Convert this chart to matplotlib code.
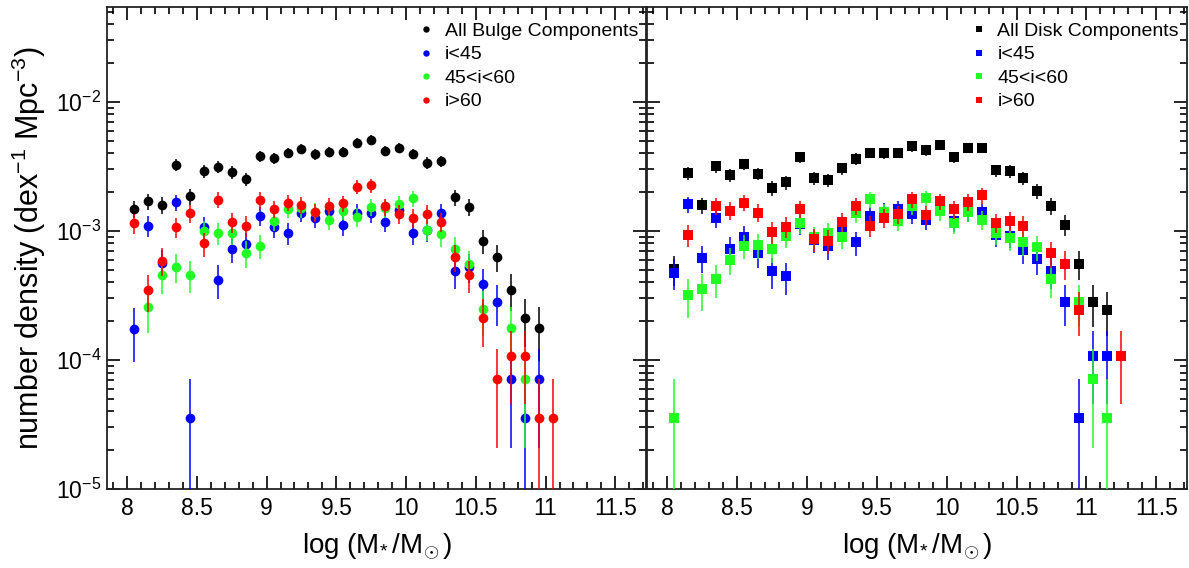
import numpy as np
import matplotlib.pyplot as plt
from matplotlib.lines import Line2D
from matplotlib.ticker import MultipleLocator, LogLocator, FuncFormatter, NullFormatter

plt.rcParams['font.family'] = ['Liberation Sans', 'DejaVu Sans']
plt.rcParams['mathtext.fontset'] = 'custom'
plt.rcParams['mathtext.rm'] = 'Liberation Sans'
plt.rcParams['mathtext.it'] = 'Liberation Sans:italic'
plt.rcParams['mathtext.bf'] = 'Liberation Sans:bold'

nan = np.nan
UNIT = 3.55e-5      # density of one galaxy in a bin (poisson errors)
SCALE = 1e-3        # values below are in units of 1e-3

# bulge panel, bins 8.05 ... 11.05
mass_bulge = np.round(np.arange(8.05, 11.06, 0.1), 2)
bulge_all = [1.48, 1.70, 1.60, 3.27, 1.86, 2.92, 3.13, 2.85, 2.53, 3.79, 3.68, 4.03, 4.33, 3.95,
             4.10, 4.10, 4.80, 5.10, 4.19, 4.40, 3.97, 3.37, 3.47, 1.82, 1.53, 0.84, 0.63, 0.35,
             0.212, 0.177, nan]
bulge_lo = [0.175, 1.10, 0.565, 1.67, 0.0355, 1.08, 0.42, 0.73, 0.79, 1.31, 1.08, 0.96, 1.39, 1.27,
            1.44, 1.12, 1.39, 1.37, 1.18, 1.46, 0.97, 1.01, 1.39, 0.49, 0.53, 0.386, 0.282, 0.071,
            0.0355, 0.071, nan]
bulge_mid = [nan, 0.258, 0.453, 0.53, 0.456, 1.00, 0.97, 0.97, 0.675, 0.77, 1.20, 1.49, 1.50, 1.41,
             1.22, 1.44, 1.29, 1.54, 1.50, 1.62, 1.80, 1.02, 0.94, 0.73, 0.555, 0.248, nan, 0.177,
             0.071, nan, nan]
bulge_hi = [1.15, 0.347, 0.59, 1.07, 1.38, 0.80, 1.75, 1.17, 1.10, 1.74, 1.49, 1.66, 1.60, 1.40,
            1.57, 1.64, 2.21, 2.26, 1.55, 1.36, 1.26, 1.36, 1.18, 0.63, 0.456, 0.212, 0.071, 0.107,
            0.107, 0.0355, 0.0355]

# disk panel, bins 8.05 ... 11.25
mass_disk = np.round(np.arange(8.05, 11.26, 0.1), 2)
disk_all = [0.51, 2.82, 1.58, 3.17, 2.70, 3.29, 2.78, 2.15, 2.38, 3.72, 2.56, 2.49, 3.06, 3.63,
            4.03, 4.00, 4.03, 4.53, 4.23, 4.67, 3.75, 4.40, 4.40, 2.95, 2.92, 2.56, 2.04, 1.57,
            1.12, 0.558, 0.28, 0.246, nan]
disk_lo = [0.476, 1.61, 0.623, 1.26, 0.731, 0.906, 0.67, 0.49, 0.444, 1.13, 0.85, 0.76, 1.02, 0.815,
           1.31, 1.41, 1.47, 1.35, 1.22, 1.63, 1.19, 1.40, 1.40, 0.93, 0.92, 0.71, 0.605, 0.49,
           0.282, 0.0355, 0.107, 0.107, nan]
disk_mid = [0.0355, 0.319, 0.354, 0.423, 0.598, 0.768, 0.776, 0.73, 0.92, 1.15, 0.90, 0.96, 0.906,
            1.37, 1.76, 1.40, 1.20, 1.57, 1.80, 1.42, 1.15, 1.40, 1.22, 0.97, 0.875, 0.815, 0.745,
            0.423, nan, 0.282, 0.071, 0.0355, nan]
disk_hi = [nan, 0.93, nan, 1.57, 1.44, 1.66, 1.39, 0.986, 1.08, 1.49, 0.86, 0.84, 1.18, 1.57,
           1.10, 1.27, 1.35, 1.76, 1.34, 1.70, 1.47, 1.68, 1.89, 1.16, 1.20, 1.10, nan, 0.67,
           0.558, 0.246, nan, nan, 0.107]

labels_bulge = ['All Bulge Components', 'i<45', '45<i<60', 'i>60']
labels_disk = ['All Disk Components', 'i<45', '45<i<60', 'i>60']
colors = ['black', '#0000ff', '#22ff22', '#ff0000']
draw_order = [0, 3, 2, 1]


def poisson_err(vals):
    v = np.asarray(vals, dtype=float) * SCALE
    err = np.sqrt(v / UNIT) * UNIT
    lower = v - np.maximum(v - err, 1e-9)
    return v, np.vstack([lower, err])


def panel(ax, x, series, labels, marker, ms):
    for i in draw_order:
        v, yerr = poisson_err(series[i])
        ax.errorbar(x, v, yerr=yerr, fmt='none', ecolor=colors[i], elinewidth=1.1, zorder=2 + i)
        ax.plot(x, v, linestyle='none', marker=marker, ms=ms, color=colors[i],
                markeredgewidth=0, zorder=2.5 + i)
    handles = [Line2D([], [], linestyle='none', marker=marker, ms=4.6, color=c,
                      markeredgewidth=0) for c in colors]
    ax.legend(handles, labels, loc='upper right', bbox_to_anchor=(0.985, 0.968),
              frameon=False, fontsize=14, handlelength=0.8, handletextpad=0.55,
              labelspacing=0.3, borderpad=0, borderaxespad=0)

    ax.set_yscale('log')
    ax.set_xlim(7.856, 11.72)
    ax.set_ylim(1e-5, 0.0545)
    ax.xaxis.set_major_locator(MultipleLocator(0.5))
    ax.xaxis.set_minor_locator(MultipleLocator(0.1))
    ax.xaxis.set_major_formatter(FuncFormatter(lambda t, p: '%g' % t))
    ax.yaxis.set_major_locator(LogLocator(base=10, numticks=10))
    ax.yaxis.set_minor_locator(LogLocator(base=10, subs=np.arange(2, 10), numticks=10))
    ax.yaxis.set_minor_formatter(NullFormatter())
    ax.tick_params(which='both', direction='in', top=True, right=True, width=1.2,
                   labelsize=16.5, colors='black')
    ax.tick_params(which='major', length=9.5, pad=6)
    ax.tick_params(which='minor', length=4.7)
    for s in ax.spines.values():
        s.set_linewidth(1.3)
        s.set_color('#222222')
    ax.set_xlabel('log (M$_{\\!*}$/M$_{\\!\\odot}$)', fontsize=20, labelpad=8)


fig = plt.figure(figsize=(11.89, 5.68), dpi=100)
ax1 = fig.add_axes([107 / 1189, 79 / 568, 539 / 1189, 482 / 568])
ax2 = fig.add_axes([647 / 1189, 79 / 568, 540 / 1189, 482 / 568])

panel(ax1, mass_bulge, [bulge_all, bulge_lo, bulge_mid, bulge_hi], labels_bulge, 'o', 7.0)
panel(ax2, mass_disk, [disk_all, disk_lo, disk_mid, disk_hi], labels_disk, 's', 6.8)

ax1.yaxis.set_major_formatter(FuncFormatter(lambda t, p: '10$^{%d}$' % round(np.log10(t))))
ax1.tick_params(axis='y', which='major', pad=4)
ax2.yaxis.set_major_formatter(NullFormatter())
ax1.set_ylabel('number density (dex$^{-1}$ Mpc$^{-3}$)', fontsize=22, labelpad=6)

fig.savefig('out.png', dpi=100)
